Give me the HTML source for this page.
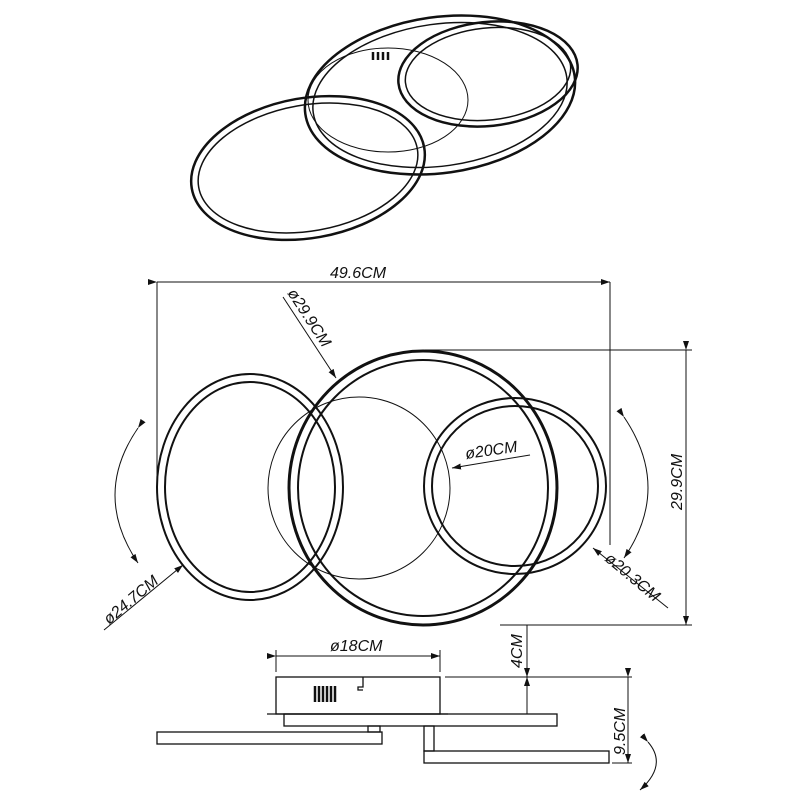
<!DOCTYPE html>
<html><head><meta charset="utf-8"><style>
html,body{margin:0;padding:0;background:#fff;}
svg{display:block;}
text{font-family:"Liberation Sans",sans-serif;font-style:italic;font-size:16px;fill:#111;}
</style></head><body>
<svg width="800" height="800" viewBox="0 0 800 800" xmlns="http://www.w3.org/2000/svg">
<defs>
<marker id="a" markerWidth="10" markerHeight="8" refX="9" refY="4" orient="auto" markerUnits="userSpaceOnUse"><path d="M0,1 L9,4 L0,7 Z" fill="#111"/></marker>
</defs>
<g fill="none" stroke="#111">
<!-- Top perspective -->
<ellipse cx="388" cy="100" rx="80" ry="52" stroke-width="1"/>
<ellipse cx="440" cy="95" rx="136" ry="78" transform="rotate(-8 440 95)" stroke-width="2.5"/>
<ellipse cx="440" cy="95" rx="128" ry="71" transform="rotate(-8 440 95)" stroke-width="1.5"/>
<ellipse cx="488" cy="74" rx="90" ry="52" transform="rotate(-6 488 74)" stroke-width="2.5"/>
<ellipse cx="488" cy="74" rx="83" ry="46" transform="rotate(-6 488 74)" stroke-width="1.5"/>
<ellipse cx="308" cy="168" rx="118" ry="70" transform="rotate(-10 308 168)" stroke-width="2.5"/>
<ellipse cx="308" cy="168" rx="111" ry="63" transform="rotate(-10 308 168)" stroke-width="1.5"/>
<g stroke-width="2.5"><line x1="373" y1="52" x2="373" y2="60"/><line x1="378" y1="52" x2="378" y2="60"/><line x1="383" y1="52" x2="383" y2="60"/><line x1="388" y1="52" x2="388" y2="60"/></g>

<!-- Main view rings -->
<circle cx="359" cy="488" r="91" stroke-width="1"/>
<ellipse cx="423" cy="488" rx="134" ry="137" stroke-width="3"/>
<ellipse cx="423" cy="488" rx="125" ry="128" stroke-width="2"/>
<ellipse cx="250" cy="487" rx="93" ry="113" stroke-width="2"/>
<ellipse cx="250" cy="487" rx="85" ry="105" stroke-width="2"/>
<ellipse cx="515" cy="486" rx="91" ry="88" stroke-width="2"/>
<ellipse cx="515" cy="486" rx="83" ry="80" stroke-width="2"/>

<!-- dimensions -->
<g stroke-width="1">
<line x1="157" y1="282" x2="157" y2="500"/>
<line x1="610" y1="282" x2="610" y2="545"/>
<line x1="157" y1="282" x2="610" y2="282" marker-start="url(#a)" marker-end="url(#a)"/>
<line x1="425" y1="350" x2="692" y2="350"/>
<line x1="500" y1="625" x2="692" y2="625"/>
<line x1="686" y1="350" x2="686" y2="625" marker-start="url(#a)" marker-end="url(#a)"/>
<line x1="283" y1="297" x2="336" y2="378" marker-end="url(#a)"/>
<line x1="104" y1="630" x2="183" y2="565" marker-end="url(#a)"/>
<line x1="668" y1="608" x2="593" y2="548" marker-end="url(#a)"/>
<line x1="530" y1="455" x2="452" y2="468" marker-end="url(#a)"/>
<path d="M138,428 Q92,495 138,563" marker-start="url(#a)" marker-end="url(#a)"/>
<path d="M624,417 Q672,488 624,558" marker-start="url(#a)" marker-end="url(#a)"/>
</g>

<!-- side view -->
<g stroke-width="1.3">
<rect x="276" y="677" width="164" height="37"/>
<line x1="267" y1="714" x2="448" y2="714"/>
<rect x="284" y="714" width="273" height="12"/>
<rect x="157" y="732" width="225" height="12"/>
<rect x="424" y="751" width="185" height="12"/>
<rect x="424" y="726" width="10" height="25"/>
<rect x="368" y="726" width="12" height="6"/>
<path d="M363,677 v10 h-5 v3 h5"/>
</g>
<g stroke-width="2.5"><line x1="315" y1="686" x2="315" y2="702"/><line x1="319" y1="686" x2="319" y2="702"/><line x1="323" y1="686" x2="323" y2="702"/><line x1="327" y1="686" x2="327" y2="702"/><line x1="331" y1="686" x2="331" y2="702"/><line x1="335" y1="686" x2="335" y2="702"/></g>
<g stroke-width="1">
<line x1="276" y1="650" x2="276" y2="672"/>
<line x1="440" y1="650" x2="440" y2="672"/>
<line x1="276" y1="656" x2="440" y2="656" marker-start="url(#a)" marker-end="url(#a)"/>
<line x1="445" y1="677" x2="632" y2="677"/>
<line x1="527" y1="625" x2="527" y2="677" marker-end="url(#a)"/>
<line x1="527" y1="714" x2="527" y2="677" marker-end="url(#a)"/>
<line x1="628" y1="677" x2="628" y2="763" marker-start="url(#a)" marker-end="url(#a)"/>
<line x1="612" y1="763" x2="632" y2="763"/>
<path d="M648,742 Q668,765 640,790" marker-start="url(#a)" marker-end="url(#a)"/>
</g>
</g>

<text x="330" y="278">49.6CM</text>
<text transform="translate(287,293) rotate(57)">ø29.9CM</text>
<text transform="translate(682,510) rotate(-90)">29.9CM</text>
<text transform="translate(466,459) rotate(-8)">ø20CM</text>
<text transform="translate(109,625) rotate(-40)">ø24.7CM</text>
<text transform="translate(604,560) rotate(40)">ø20.3CM</text>
<text x="330" y="651">ø18CM</text>
<text transform="translate(522,668) rotate(-90)">4CM</text>
<text transform="translate(625,755) rotate(-90)">9.5CM</text>
</svg>
</body></html>
